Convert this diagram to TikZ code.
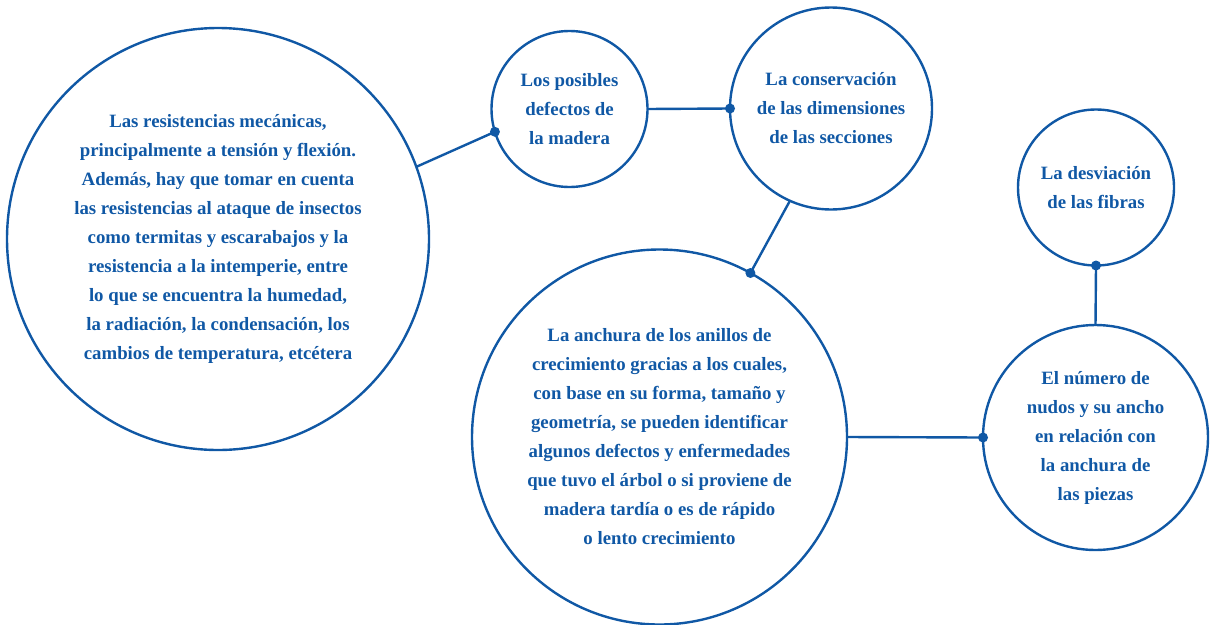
\documentclass[tikz,border=0pt]{standalone}
\usepackage{fontspec}
\setmainfont{Liberation Serif}
\definecolor{cblue}{RGB}{16,88,165}
\begin{document}
\begin{tikzpicture}[x=1pt,y=-1pt,
  bubble/.style={circle,draw=cblue,line width=2.4pt,inner sep=0pt,outer sep=0pt,
    align=center,text=cblue,font=\fontsize{18.8}{29}\selectfont\bfseries},
  link/.style={draw=cblue,line width=2.4pt},
  dotc/.style={fill=cblue}]
\useasboundingbox (0,0) rectangle (1214,624);
\node[bubble,minimum size=422pt] (c1) at (218,239) {Las resistencias mecánicas,\\principalmente a tensión y flexión.\\Además, hay que tomar en cuenta\\las resistencias al ataque de insectos\\como termitas y escarabajos y la\\resistencia a la intemperie, entre\\lo que se encuentra la humedad,\\la radiación, la condensación, los\\cambios de temperatura, etcétera};
\node[bubble,minimum size=156pt] (c2) at (569.5,109) {Los posibles\\defectos de\\la madera};
\node[bubble,minimum size=202pt] (c3) at (831,108.5) {La conservación\\de las dimensiones\\de las secciones};
\node[bubble,minimum size=156pt] (c4) at (1096,187.5) {La desviación\\de las fibras};
\node[bubble,minimum size=375pt] (c5) at (659.5,437) {La anchura de los anillos de\\crecimiento gracias a los cuales,\\con base en su forma, tamaño y\\geometría, se pueden identificar\\algunos defectos y enfermedades\\que tuvo el árbol o si proviene de\\madera tardía o es de rápido\\o lento crecimiento};
\node[bubble,minimum size=225pt] (c6) at (1095.5,437.5) {El número de\\nudos y su ancho\\en relación con\\la anchura de\\las piezas};
\coordinate (d1) at (c2.197);
\coordinate (d2) at (c3.west);
\coordinate (d3) at (c5.61);
\coordinate (d4) at (c6.west);
\coordinate (d5) at (c4.south);
\draw[link] (c1.20) -- (d1);
\draw[link] (c2.east) -- (d2);
\draw[link] (c3.246) -- (d3);
\draw[link] (c5.east) -- (d4);
\draw[link] (c6.north) -- (d5);
\foreach \d in {d1,d2,d3,d4,d5} \fill[dotc] (\d) circle (5pt);
\end{tikzpicture}
\end{document}
